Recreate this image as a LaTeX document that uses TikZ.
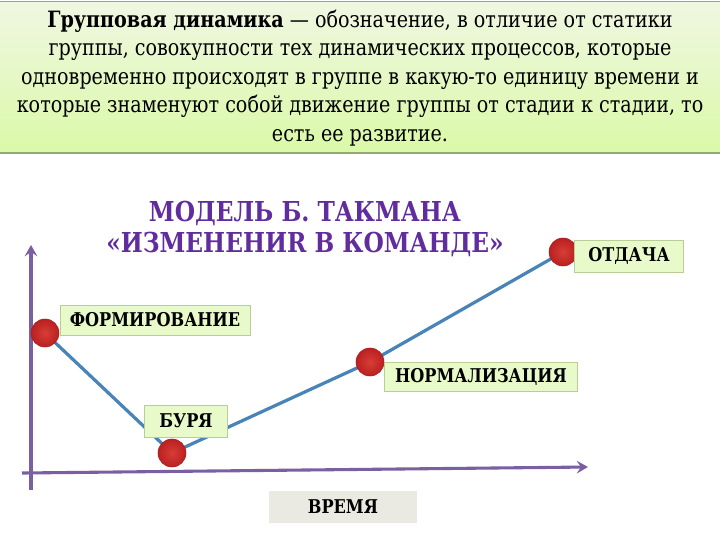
\documentclass[tikz,border=0pt]{standalone}
\usepackage{fontspec}
\setmainfont{DejaVu Serif}[FakeStretch=0.85]
\usetikzlibrary{arrows.meta}

\tikzset{
    stagebox/.style={shape=rectangle,draw=box_line,fill=box_fill,inner sep=2pt,
        font=\fontsize{13.5}{15}\selectfont\bfseries},
    stagedot/.style={shape=circle,draw=dot_line,inner color=dot_in,outer color=dot_out,
        minimum size=0.7cm,inner sep=0pt},
}

\begin{document}
\begin{tikzpicture}[x=0.025cm,y=-0.025cm]
    \definecolor{hdr_top}{RGB}{240,247,226}
    \definecolor{hdr_bot}{RGB}{218,249,168}
    \definecolor{hdr_line}{RGB}{150,168,112}
    \definecolor{box_fill}{RGB}{232,250,202}
    \definecolor{box_line}{RGB}{185,205,150}
    \definecolor{time_fill}{RGB}{234,234,226}
    \definecolor{axis_col}{RGB}{122,96,160}
    \definecolor{curve_col}{RGB}{72,132,184}
    \definecolor{title_col}{RGB}{96,44,158}
    \definecolor{dot_in}{RGB}{215,62,55}
    \definecolor{dot_out}{RGB}{185,32,32}
    \definecolor{dot_line}{RGB}{165,30,30}

    \useasboundingbox (0,0) rectangle (720,540);

    % header
    \shade[top color=hdr_top,bottom color=hdr_bot] (0,1) rectangle (720,153);
    \draw[color=hdr_line,line width=0.6pt] (0,1) to (720,1);
    \draw[color=hdr_line,line width=1pt] (0,153) to (720,153);
    \node[align=center,font=\fontsize{16}{20.2}\selectfont] (hdr) at (360,78) {
        \textbf{Групповая динамика} — обозначение, в отличие от статики\\
        группы, совокупности тех динамических процессов, которые\\
        одновременно происходят в группе в какую-то единицу времени и\\
        которые знаменуют собой движение группы от стадии к стадии, то\\
        есть ее развитие.};

    % title
    \node[align=center,text=title_col,font=\fontsize{19.5}{22.7}\selectfont\bfseries] (title) at (305,229) {
        МОДЕЛЬ Б. ТАКМАНА\\
        «ИЗМЕНЕНИR В КОМАНДЕ»};

    % axes
    \coordinate (ybot) at (31,490);
    \coordinate (ytop) at (31,245);
    \coordinate (xbeg) at (22,473);
    \coordinate (xend) at (588,467);
    \draw[-{Stealth[length=8pt,width=9pt,inset=3pt]},color=axis_col,line width=2.2pt] (ybot) to (ytop);
    \draw[-{Stealth[length=8pt,width=9pt,inset=3pt]},color=axis_col,line width=2.2pt] (xbeg) to (xend);

    % stages
    \coordinate (form) at (45,333);
    \coordinate (storm) at (172,453);
    \coordinate (norm) at (370,362);
    \coordinate (perf) at (563,252);
    \draw[color=curve_col,line width=2.3pt] (form) to (storm) to (norm) to (perf);

    \node[stagedot] (form_dot) at (form) {};
    \node[stagedot] (storm_dot) at (storm) {};
    \node[stagedot] (norm_dot) at (norm) {};
    \node[stagedot] (perf_dot) at (perf) {};

    \node[stagebox,minimum width=4.75cm,minimum height=0.75cm] (form_lbl) at (155,320) {ФОРМИРОВАНИЕ};
    \node[stagebox,minimum width=2.08cm,minimum height=0.8cm] (storm_lbl) at (186,421) {БУРЯ};
    \node[stagebox,minimum width=4.83cm,minimum height=0.73cm] (norm_lbl) at (481,377) {НОРМАЛИЗАЦИЯ};
    \node[stagebox,minimum width=2.73cm,minimum height=0.8cm] (perf_lbl) at (629,256) {ОТДАЧА};

    \node[stagebox,draw=none,fill=time_fill,minimum width=3.68cm,minimum height=0.78cm] (time_lbl) at (343,507) {ВРЕМЯ};
\end{tikzpicture}
\end{document}
